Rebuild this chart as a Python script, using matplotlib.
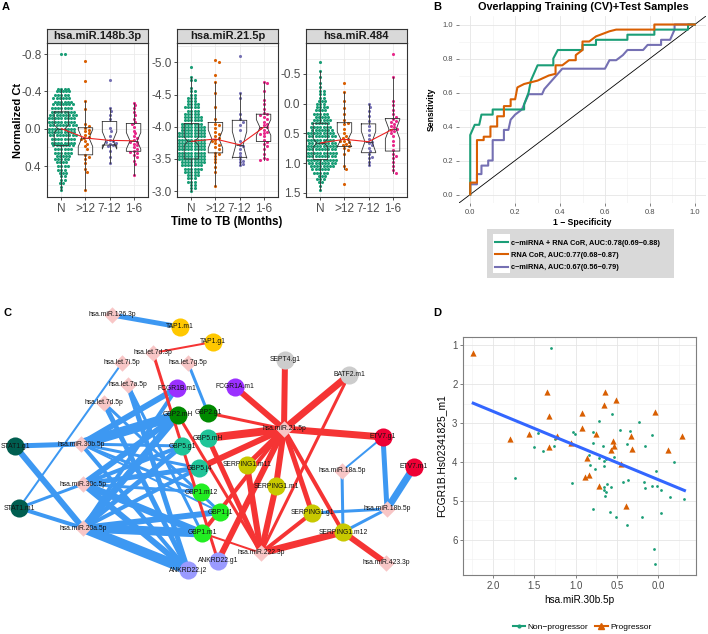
import numpy as np
import matplotlib
matplotlib.use('Agg')
import matplotlib.pyplot as plt
from matplotlib.lines import Line2D

plt.rcParams['font.family'] = ['Liberation Sans', 'DejaVu Sans']

W, H = 708, 634

# ---------------- panel A data ----------------
groups = ['N', '>12', '7-12', '1-6']
group_colors = ['#1B9E77', '#D95F02', '#7570B3', '#E7298A']
mirnas = ['hsa.miR.148b.3p', 'hsa.miR.21.5p', 'hsa.miR.484']

# N group read as dot counts per level (beeswarm rows)
n148_levels = [-0.80, -0.43, -0.40, -0.36, -0.33, -0.29, -0.26, -0.22, -0.18, -0.15, -0.11,
               -0.07, -0.04, 0.00, 0.04, 0.07, 0.11, 0.15, 0.18, 0.22, 0.26, 0.29, 0.33,
               0.36, 0.40, 0.44, 0.47, 0.51, 0.55, 0.58, 0.62, 0.66]
n148_counts = [2, 4, 5, 5, 6, 6, 7, 7, 8, 9, 9, 9, 9, 9, 9, 9, 8, 8, 7, 6, 6, 5, 5, 4, 4,
               3, 3, 2, 2, 2, 1, 1]
g148_gt12 = [-0.72, -0.51, -0.30, -0.21, -0.05, -0.03, -0.01, 0.01, 0.03, 0.05, 0.07, 0.09,
             0.10, 0.11, 0.13, 0.16, 0.19, 0.22, 0.28, 0.30, 0.33, 0.37, 0.43, 0.46, 0.66]
g148_712 = [-0.52, -0.22, -0.19, -0.15, -0.10, -0.01, 0.02, 0.08, 0.12, 0.13, 0.14, 0.15,
            0.16, 0.18, 0.19, 0.24, 0.30, 0.37]
g148_16 = [-0.28, -0.25, -0.22, -0.18, -0.15, -0.10, -0.07, -0.05, -0.02, 0.02, 0.05, 0.08,
           0.10, 0.12, 0.14, 0.14, 0.16, 0.18, 0.20, 0.22, 0.24, 0.25, 0.26, 0.28, 0.30,
           0.35, 0.38, 0.50]

n21_levels = [-4.92, -4.77, -4.72, -4.60, -4.55, -4.50, -4.45, -4.40, -4.35, -4.30, -4.25,
              -4.20, -4.15, -4.10, -4.05, -4.00, -3.95, -3.90, -3.85, -3.80, -3.75, -3.70,
              -3.65, -3.60, -3.55, -3.50, -3.45, -3.40, -3.35, -3.30, -3.25, -3.20, -3.15,
              -3.10, -3.05, -3.00]
n21_counts = [1, 1, 2, 1, 2, 2, 3, 3, 4, 5, 4, 5, 6, 6, 7, 8, 8, 9, 9, 9, 9, 9, 9, 9, 9, 9,
              8, 7, 6, 5, 4, 3, 3, 2, 2, 1]
g21_gt12 = [-5.03, -5.01, -4.80, -4.70, -4.52, -4.30, -4.12, -4.05, -4.02, -3.98, -3.92,
            -3.88, -3.85, -3.82, -3.80, -3.78, -3.75, -3.72, -3.68, -3.65, -3.60, -3.58,
            -3.55, -3.50, -3.45, -3.38, -3.30, -3.08]
g21_712 = [-5.10, -4.52, -4.45, -4.20, -4.12, -4.08, -4.02, -3.95, -3.78, -3.72, -3.70,
           -3.66, -3.60, -3.55, -3.50, -3.47, -3.45, -3.42, -3.40]
g21_16 = [-4.70, -4.68, -4.55, -4.42, -4.35, -4.28, -4.22, -4.20, -4.18, -4.15, -4.12, -4.08,
          -4.05, -4.02, -4.00, -3.98, -3.95, -3.92, -3.90, -3.88, -3.85, -3.80, -3.76, -3.74,
          -3.70, -3.65, -3.58, -3.52, -3.50, -3.48]

n484_levels = [-0.70, -0.55, -0.45, -0.35, -0.28, -0.22, -0.16, -0.10, -0.05, 0.00, 0.06,
               0.11, 0.17, 0.22, 0.28, 0.33, 0.39, 0.44, 0.50, 0.55, 0.61, 0.66, 0.72, 0.77,
               0.83, 0.88, 0.94, 0.99, 1.05, 1.10, 1.16, 1.21, 1.27, 1.32, 1.38, 1.45]
n484_counts = [1, 1, 1, 1, 1, 2, 2, 2, 3, 3, 4, 4, 5, 5, 6, 6, 7, 7, 9, 9, 9, 9, 10, 10, 10,
               10, 10, 9, 8, 6, 5, 3, 3, 2, 1, 1]
g484_gt12 = [-0.35, -0.20, -0.05, 0.08, 0.18, 0.28, 0.32, 0.35, 0.42, 0.50, 0.55, 0.58,
             0.60, 0.62, 0.63, 0.65, 0.68, 0.70, 0.72, 0.75, 0.78, 0.85, 1.05, 1.10, 1.35]
g484_712 = [0.00, 0.05, 0.12, 0.20, 0.30, 0.38, 0.45, 0.52, 0.60, 0.64, 0.66, 0.70, 0.75,
            0.80, 0.85, 0.89, 0.92, 0.98, 1.04]
g484_16 = [-0.84, -0.45, -0.05, 0.02, 0.10, 0.18, 0.22, 0.26, 0.29, 0.31, 0.34, 0.38, 0.40,
           0.42, 0.44, 0.46, 0.50, 0.55, 0.62, 0.70, 0.78, 0.85, 0.88, 0.92, 0.98, 1.05,
           1.12, 1.16]

a_ylims = [(0.732, -0.918), (-2.91, -5.30), (1.57, -1.02)]
a_yticks = [[-0.8, -0.4, 0.0, 0.4], [-5.0, -4.5, -4.0, -3.5, -3.0], [-0.5, 0.0, 0.5, 1.0, 1.5]]
a_minor = [[-0.6, -0.2, 0.2, 0.6], [-5.25, -4.75, -4.25, -3.75, -3.25], [-0.75, -0.25, 0.25, 0.75, 1.25]]

# ---------------- panel B data ----------------
roc_comb_fpr = [0, 0, 0.01, 0.02, 0.04, 0.05, 0.10, 0.10, 0.24, 0.24, 0.26, 0.27, 0.28, 0.30,
                0.37, 0.37, 0.39, 0.50, 0.50, 0.56, 0.56, 0.70, 0.70, 0.82, 0.82, 0.97, 0.97, 1.0]
roc_comb_tpr = [0, 0.35, 0.38, 0.41, 0.41, 0.47, 0.47, 0.50, 0.50, 0.53, 0.60, 0.67, 0.70,
                0.76, 0.76, 0.80, 0.85, 0.85, 0.88, 0.88, 0.91, 0.91, 0.94, 0.94, 0.97, 0.97,
                1.0, 1.0]
roc_rna_fpr = [0, 0, 0.03, 0.03, 0.06, 0.06, 0.09, 0.09, 0.12, 0.12, 0.15, 0.15, 0.18, 0.18,
               0.20, 0.21, 0.24, 0.30, 0.35, 0.38, 0.38, 0.41, 0.44, 0.47, 0.47, 0.50, 0.50,
               0.53, 0.56, 0.62, 0.65, 0.82, 0.82, 1.0]
roc_rna_tpr = [0, 0.07, 0.07, 0.32, 0.32, 0.34, 0.34, 0.40, 0.40, 0.46, 0.46, 0.52, 0.52, 0.56,
               0.56, 0.63, 0.65, 0.67, 0.70, 0.71, 0.76, 0.76, 0.79, 0.79, 0.82, 0.85, 0.90,
               0.90, 0.93, 0.96, 0.97, 0.97, 1.0, 1.0]
roc_mir_fpr = [0, 0, 0.03, 0.03, 0.05, 0.05, 0.08, 0.08, 0.10, 0.10, 0.15, 0.15, 0.17, 0.18,
               0.20, 0.23, 0.24, 0.26, 0.32, 0.33, 0.35, 0.37, 0.39, 0.41, 0.60, 0.62, 0.65,
               0.68, 0.70, 0.77, 0.79, 0.85, 0.85, 0.89, 0.91, 0.91, 1.0]
roc_mir_tpr = [0, 0.06, 0.06, 0.12, 0.12, 0.17, 0.17, 0.20, 0.20, 0.32, 0.32, 0.38, 0.38, 0.44,
               0.47, 0.50, 0.53, 0.59, 0.59, 0.62, 0.65, 0.68, 0.71, 0.74, 0.74, 0.79, 0.79,
               0.82, 0.85, 0.85, 0.88, 0.88, 0.91, 0.91, 0.97, 1.0, 1.0]
roc_labels = ['c\u2212miRNA + RNA CoR, AUC:0.78(0.69\u22120.88)',
              'RNA CoR, AUC:0.77(0.68\u22120.87)',
              'c\u2212miRNA, AUC:0.67(0.56\u22120.79)']
roc_colors = ['#1B9E77', '#D95F02', '#7570B3']

# ---------------- panel C data ----------------
node_names = ['hsa.miR.126.3p', 'TAP1.m1', 'TAP1.g1', 'hsa.let.7d.3p', 'hsa.let.7i.5p',
              'hsa.let.7g.5p', 'hsa.let.7a.5p', 'FCGR1B.m1', 'FCGR1A.m1', 'hsa.let.7d.5p',
              'GBP2.mH', 'GBP2.g1', 'STAT1.g1', 'hsa.miR.30b.5p', 'GBP5.g1', 'GBP5.mH',
              'GBP5.j4', 'SERPING1.m11', 'SEPT4.g1', 'BATF2.m1', 'hsa.miR.21.5p', 'ETV7.g1',
              'ETV7.m1', 'hsa.miR.18a.5p', 'hsa.miR.30c.5p', 'STAT1.m1', 'hsa.miR.20a.5p',
              'GBP1.m12', 'GBP1.j1', 'GBP1.m1', 'ANKRD22.g1', 'ANKRD22.j2', 'SERPING1.m1',
              'SERPING1.g1', 'hsa.miR.18b.5p', 'SERPING1.m12', 'hsa.miR.222.3p', 'hsa.miR.423.3p']
node_x = [112, 180, 213, 153, 122, 188, 128, 177, 235, 104, 178, 208, 15, 81, 182, 208, 199,
          247, 285, 349, 284, 383, 414, 342, 83, 19, 83, 201, 220, 202, 218, 188, 276, 312,
          387, 343, 261, 386]
node_y = [315, 327, 342, 353, 363, 363, 385, 388, 387, 403, 415, 413, 446, 444, 446, 438, 468,
          465, 360, 375, 429, 437, 467, 471, 484, 508, 528, 492, 512, 533, 561, 570, 486, 513,
          509, 532, 553, 563]
gene_colors = {'TAP1': '#FFC800', 'FCGR1B': '#9B30FF', 'FCGR1A': '#9B30FF', 'GBP2': '#008A00',
               'GBP5': '#1FC498', 'GBP1': '#22EE22', 'STAT1': '#005E50', 'SERPING1': '#C8C800',
               'SEPT4': '#CCCCCC', 'BATF2': '#CCCCCC', 'ETV7': '#EE0035', 'ANKRD22': '#9A9AFF'}
mirna_color = '#F8C6C6'

edges_neg = [('hsa.miR.126.3p', 'TAP1.m1', 5), ('hsa.let.7g.5p', 'GBP2.g1', 3),
             ('hsa.let.7i.5p', 'STAT1.m1', 2), ('STAT1.g1', 'hsa.miR.30b.5p', 5),
             ('STAT1.g1', 'hsa.miR.20a.5p', 6), ('STAT1.m1', 'hsa.miR.30c.5p', 3),
             ('STAT1.m1', 'hsa.miR.20a.5p', 4), ('hsa.miR.30b.5p', 'FCGR1B.m1', 6),
             ('hsa.miR.30b.5p', 'GBP2.mH', 10), ('hsa.miR.30b.5p', 'GBP5.g1', 3),
             ('hsa.miR.30b.5p', 'GBP5.j4', 3), ('hsa.miR.30b.5p', 'GBP1.m12', 3),
             ('hsa.miR.30b.5p', 'GBP1.j1', 2), ('hsa.miR.30b.5p', 'ANKRD22.j2', 4),
             ('hsa.miR.30c.5p', 'GBP2.mH', 6), ('hsa.miR.30c.5p', 'GBP5.g1', 4),
             ('hsa.miR.30c.5p', 'GBP5.j4', 5), ('hsa.miR.30c.5p', 'GBP1.m12', 3),
             ('hsa.miR.30c.5p', 'GBP1.m1', 7), ('hsa.miR.30c.5p', 'ANKRD22.j2', 6),
             ('hsa.miR.20a.5p', 'FCGR1B.m1', 4), ('hsa.miR.20a.5p', 'GBP2.mH', 7),
             ('hsa.miR.20a.5p', 'GBP5.g1', 5), ('hsa.miR.20a.5p', 'GBP5.j4', 4),
             ('hsa.miR.20a.5p', 'GBP1.j1', 6), ('hsa.miR.20a.5p', 'GBP1.m1', 9),
             ('hsa.miR.20a.5p', 'ANKRD22.j2', 10), ('hsa.let.7a.5p', 'ANKRD22.j2', 5),
             ('hsa.let.7a.5p', 'GBP1.m1', 3), ('hsa.let.7d.5p', 'ANKRD22.j2', 5),
             ('hsa.let.7d.5p', 'GBP1.j1', 3), ('hsa.miR.18a.5p', 'ETV7.g1', 2),
             ('hsa.miR.18a.5p', 'SERPING1.m12', 3), ('hsa.miR.18b.5p', 'ETV7.g1', 5),
             ('hsa.miR.18b.5p', 'ETV7.m1', 7), ('hsa.miR.18b.5p', 'SERPING1.g1', 3),
             ('hsa.miR.18b.5p', 'SERPING1.m12', 3)]
edges_pos = [('hsa.let.7d.3p', 'TAP1.g1', 2), ('hsa.let.7d.3p', 'ANKRD22.g1', 3),
             ('hsa.miR.21.5p', 'SEPT4.g1', 6), ('hsa.miR.21.5p', 'BATF2.m1', 7),
             ('hsa.miR.21.5p', 'FCGR1A.m1', 6), ('hsa.miR.21.5p', 'GBP2.g1', 3),
             ('hsa.miR.21.5p', 'GBP5.mH', 8), ('hsa.miR.21.5p', 'GBP5.j4', 6),
             ('hsa.miR.21.5p', 'SERPING1.m11', 5), ('hsa.miR.21.5p', 'SERPING1.m1', 6),
             ('hsa.miR.21.5p', 'SERPING1.g1', 5), ('hsa.miR.21.5p', 'SERPING1.m12', 4),
             ('hsa.miR.21.5p', 'ETV7.g1', 7), ('hsa.miR.21.5p', 'ANKRD22.g1', 6),
             ('hsa.miR.21.5p', 'GBP1.m1', 4), ('hsa.miR.222.3p', 'BATF2.m1', 3),
             ('hsa.miR.222.3p', 'GBP2.mH', 3), ('hsa.miR.222.3p', 'GBP5.mH', 5),
             ('hsa.miR.222.3p', 'SERPING1.m11', 6), ('hsa.miR.222.3p', 'SERPING1.m1', 6),
             ('hsa.miR.222.3p', 'SERPING1.g1', 4), ('hsa.miR.222.3p', 'SERPING1.m12', 7),
             ('hsa.miR.222.3p', 'GBP1.m1', 2), ('SERPING1.m12', 'hsa.miR.423.3p', 6)]

# ---------------- panel D data ----------------
prog_x = [2.24, 1.35, 0.66, 0.64, 0.51, 1.32, 0.92, 0.04, 0.92, 1.79, 1.57, 1.22, 1.32, 1.05,
          0.75, 0.54, 0.53, 0.57, 0.33, 0.31, -0.29, -0.12, 0.86, 0.45, 0.84, 0.88, 0.71, 0.39]
prog_y = [1.20, 2.20, 2.53, 2.19, 2.41, 2.82, 2.74, 2.71, 3.13, 3.40, 3.28, 3.33, 3.61, 3.52,
          3.29, 3.46, 3.58, 3.69, 3.34, 3.66, 3.33, 3.69, 3.90, 4.04, 4.33, 4.39, 4.61, 5.12]
nonprog_x = [1.30, 0.56, 0.71, 0.23, 0.46, 0.34, 0.79, 1.03, 1.01, 0.07, 1.45, 1.50, 1.39,
             1.26, 1.25, 0.79, 0.67, 0.38, 0.16, 0.53, 0.63, 0.65, 0.72, 0.84, 0.82, 0.76,
             0.65, 1.73, 0.02, -0.19, 1.04, 0.37, 0.42, 0.62, 0.57, 0.66, 0.66, 0.64, 0.63,
             0.17, 0.16, 0.07, 0.01, -0.04, -0.15, -0.32, 0.79, 0.58, 0.51, 0.19, -0.04, 0.38,
             0.05, 0.04]
nonprog_y = [1.07, 2.77, 2.94, 2.97, 3.17, 3.21, 3.23, 3.24, 3.28, 3.31, 3.26, 3.61, 3.71,
             3.58, 3.41, 3.50, 3.58, 3.54, 3.60, 3.87, 3.92, 3.98, 3.89, 3.82, 4.07, 4.18,
             4.11, 4.40, 4.23, 4.01, 4.54, 4.45, 4.52, 4.57, 4.65, 4.63, 4.72, 4.86, 4.76,
             4.50, 4.67, 4.61, 4.61, 4.71, 4.91, 4.96, 5.21, 5.27, 5.40, 5.42, 5.30, 5.61,
             6.23, 6.61]


def box(x0, y0, x1, y1):
    return [x0 / W, 1 - y1 / H, (x1 - x0) / W, (y1 - y0) / H]


def swarm(ypx, d):
    # simple beeswarm: place each point at the nearest free horizontal offset
    xs = np.zeros(len(ypx))
    steps = [0.0]
    for k in range(1, 60):
        steps += [k * d / 2, -k * d / 2]
    px, py = [], []
    for i in np.argsort(ypx):
        for s in steps:
            if all((a - s) ** 2 + (b - ypx[i]) ** 2 >= d * d * 0.97 for a, b in zip(px, py)):
                break
        xs[i] = s
        px.append(s)
        py.append(ypx[i])
    return xs


def blank_box(rect, color):
    b = fig.add_axes(rect)
    b.set_facecolor(color)
    b.set_xticks([])
    b.set_yticks([])
    for sp in b.spines.values():
        sp.set_visible(False)
    return b


fig = plt.figure(figsize=(W / 100, H / 100), dpi=100)

# ---------------- panel A ----------------
a_data = [
    [np.repeat(n148_levels, n148_counts), g148_gt12, g148_712, g148_16],
    [np.repeat(n21_levels, n21_counts), g21_gt12, g21_712, g21_16],
    [np.repeat(n484_levels, n484_counts), g484_gt12, g484_712, g484_16],
]
a_left = [47, 177, 306]
for k in range(3):
    x0 = a_left[k]
    ax = fig.add_axes(box(x0, 43, x0 + 101, 197))
    ax.set_xlim(0.4, 4.6)
    ax.set_ylim(*a_ylims[k])
    ppx = 101 / 4.2
    ppy = 154 / abs(a_ylims[k][0] - a_ylims[k][1])
    for g in range(4):
        vals = np.asarray(a_data[k][g], dtype=float)
        off = swarm(vals * ppy, 3.2) / ppx
        ax.scatter(g + 1 + off, vals, s=5, color=group_colors[g], linewidths=0, zorder=2)
    ax.boxplot([np.asarray(v, dtype=float) for v in a_data[k]], positions=[1, 2, 3, 4],
               widths=0.6, notch=True, showfliers=False, showcaps=False,
               boxprops=dict(color='#333333', lw=0.6),
               whiskerprops=dict(color='#333333', lw=0.6),
               medianprops=dict(color='#333333', lw=0.6), zorder=3)
    meds = [np.median(v) for v in a_data[k]]
    ax.plot([1, 2, 3, 4], meds, color='#EE2222', lw=0.8, zorder=4)
    ax.set_xticks([1, 2, 3, 4])
    ax.set_xticklabels(groups)
    ax.set_yticks(a_yticks[k])
    ax.set_yticklabels(['%.1f' % v for v in a_yticks[k]])
    ax.set_yticks(a_minor[k], minor=True)
    ax.grid(True, which='both', color='#EBEBEB', lw=0.6, zorder=0)
    ax.set_axisbelow(True)
    ax.tick_params(labelsize=8.5, labelcolor='#4D4D4D', color='#333333', length=2.5,
                   width=0.6, pad=1.5)
    ax.tick_params(which='minor', length=0)
    for sp in ax.spines.values():
        sp.set_color('#333333')
        sp.set_linewidth(0.8)
    st = fig.add_axes(box(x0, 29, x0 + 101, 43))
    st.set_facecolor('#D9D9D9')
    st.set_xticks([])
    st.set_yticks([])
    for sp in st.spines.values():
        sp.set_color('#333333')
        sp.set_linewidth(0.8)
    st.text(0.5, 0.5, mirnas[k], ha='center', va='center', fontsize=8, fontweight='bold',
            color='#1A1A1A', transform=st.transAxes)

fig.text(18 / W, 1 - 120 / H, 'Normalized Ct', rotation=90, ha='center', va='center',
         fontsize=8, fontweight='bold')
fig.text(227 / W, 1 - 222 / H, 'Time to TB (Months)', ha='center', va='center',
         fontsize=8.3, fontweight='bold')

# ---------------- panel B ----------------
axb = fig.add_axes(box(459, 16, 706, 203))
axb.set_xlim(-0.05, 1.05)
axb.set_ylim(-0.05, 1.05)
axb.axline((0, 0), (1, 1), color='black', lw=0.6, zorder=1)
axb.plot(roc_mir_fpr, roc_mir_tpr, color=roc_colors[2], lw=1.5, zorder=2)
axb.plot(roc_rna_fpr, roc_rna_tpr, color=roc_colors[1], lw=1.5, zorder=3)
axb.plot(roc_comb_fpr, roc_comb_tpr, color=roc_colors[0], lw=1.5, zorder=2.5)
ticks = [0, 0.2, 0.4, 0.6, 0.8, 1.0]
axb.set_xticks(ticks)
axb.set_yticks(ticks)
axb.set_xticklabels(['%.1f' % t for t in ticks])
axb.set_yticklabels(['%.1f' % t for t in ticks])
axb.set_xticks([0.1, 0.3, 0.5, 0.7, 0.9], minor=True)
axb.set_yticks([0.1, 0.3, 0.5, 0.7, 0.9], minor=True)
axb.grid(True, which='major', color='#E5E5E5', lw=0.6)
axb.grid(True, which='minor', color='#F0F0F0', lw=0.4)
axb.set_axisbelow(True)
axb.tick_params(labelsize=5.5, labelcolor='#4D4D4D', color='#4D4D4D', length=2, width=0.5, pad=2)
axb.tick_params(which='minor', length=0)
for sp in axb.spines.values():
    sp.set_visible(False)
axb.set_xlabel('1 \u2212 Specificity', fontsize=6.2, fontweight='bold', labelpad=2)
axb.set_ylabel('Sensitivity', fontsize=6.2, fontweight='bold', labelpad=5)
fig.text(583 / W, 1 - 7 / H, 'Overlapping Training (CV)+Test Samples', ha='center', va='center',
         fontsize=7.8, fontweight='bold')
# legend box: grey background with a white key column
blank_box(box(487, 229, 674, 278), '#D9D9D9')
blank_box(box(493, 234, 510, 273), 'white')
handles = [Line2D([], [], color=c, lw=1.5) for c in roc_colors]
fig.legend(handles, roc_labels, loc='center left', bbox_to_anchor=(495 / W, 1 - 255.5 / H),
           prop=dict(weight='bold', size=5.3), frameon=False, handlelength=1.75,
           handletextpad=0.4, labelspacing=0.7, borderpad=0, borderaxespad=0)

# ---------------- panel C ----------------
axc = fig.add_axes(box(0, 300, 450, 600))
axc.set_xlim(0, 450)
axc.set_ylim(600, 300)
axc.axis('off')
idx = {n: i for i, n in enumerate(node_names)}
for edges, col in [(edges_neg, '#3D98F2'), (edges_pos, '#F53434')]:
    for a, b, w in edges:
        axc.plot([node_x[idx[a]], node_x[idx[b]]], [node_y[idx[a]], node_y[idx[b]]],
                 color=col, lw=w * 0.72, solid_capstyle='butt', zorder=1)
for i, n in enumerate(node_names):
    if n.startswith('hsa.'):
        axc.scatter(node_x[i], node_y[i], marker='D', s=70, color=mirna_color, linewidths=0,
                    zorder=2)
    else:
        axc.scatter(node_x[i], node_y[i], marker='o', s=170, color=gene_colors[n.split('.')[0]],
                    linewidths=0, zorder=2)
    axc.text(node_x[i], node_y[i], n, ha='center', va='center', fontsize=4.9, color='#111111',
             zorder=3)

# ---------------- panel D ----------------
axd = fig.add_axes(box(463, 337, 696, 575))
axd.set_xlim(2.364, -0.46)
axd.set_ylim(6.9, 0.79)
all_x = np.array(prog_x + nonprog_x)
all_y = np.array(prog_y + nonprog_y)
slope, icpt = np.polyfit(all_x, all_y, 1)
xl = np.array([all_x.min(), all_x.max()])
axd.scatter(nonprog_x, nonprog_y, s=4, color='#1B9E77', linewidths=0, zorder=2)
axd.scatter(prog_x, prog_y, s=20, marker='^', color='#D95F02', linewidths=0, zorder=2)
axd.plot(xl, slope * xl + icpt, color='#3366FF', lw=2.2, zorder=3)
axd.set_xticks([0, 0.5, 1.0, 1.5, 2.0])
axd.set_xticklabels(['0.0', '0.5', '1.0', '1.5', '2.0'])
axd.set_yticks([1, 2, 3, 4, 5, 6])
axd.set_xticks([-0.25, 0.25, 0.75, 1.25, 1.75, 2.25], minor=True)
axd.set_yticks([1.5, 2.5, 3.5, 4.5, 5.5, 6.5], minor=True)
axd.grid(True, which='major', color='#E5E5E5', lw=0.6)
axd.grid(True, which='minor', color='#F0F0F0', lw=0.4)
axd.set_axisbelow(True)
axd.tick_params(labelsize=6.9, labelcolor='#4D4D4D', color='#4D4D4D', length=2, width=0.5, pad=2)
axd.tick_params(which='minor', length=0)
for sp in axd.spines.values():
    sp.set_color('#7F7F7F')
    sp.set_linewidth(0.8)
axd.set_xlabel('hsa.miR.30b.5p', fontsize=7.2, labelpad=3)
axd.set_ylabel('FCGR1B.Hs02341825_m1', fontsize=7.4, labelpad=4)
dh = [Line2D([], [], color='#1B9E77', lw=1.5, marker='o', ms=2),
      Line2D([], [], color='#D95F02', lw=1.5, marker='^', ms=4)]
fig.legend(dh, ['Non\u2212progressor', 'Progressor'], loc='center', ncol=2,
           bbox_to_anchor=(582 / W, 1 - 627 / H), frameon=False, fontsize=6,
           handlelength=1.5, columnspacing=0.8, handletextpad=0.3)

# panel letters
for lab, x, y in [('A', 6, 7), ('B', 437, 7), ('C', 7, 313), ('D', 437, 313)]:
    fig.text(x / W, 1 - y / H, lab, ha='center', va='center', fontsize=8, fontweight='bold')

fig.savefig('out.png', dpi=100)
